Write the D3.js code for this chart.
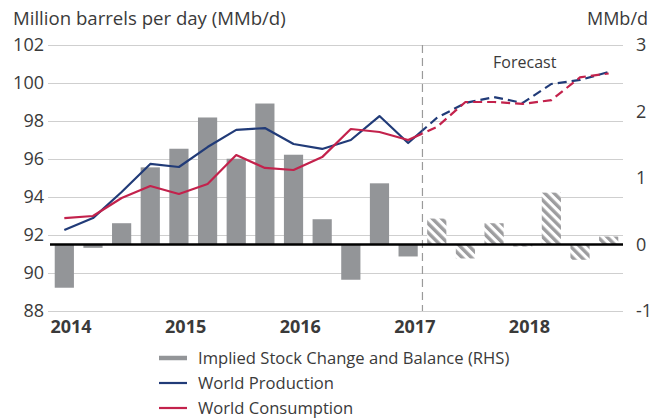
<!DOCTYPE html>
<html>
<head>
<meta charset="utf-8">
<script src="https://cdn.jsdelivr.net/npm/d3@7"></script>
<style>
  html, body { margin: 0; padding: 0; background: #fff; }
  svg { display: block; }
</style>
</head>
<body>
<script>
// Quarterly categories, 2014Q1 .. 2018Q4
const quarters = [
  "2014Q1", "2014Q2", "2014Q3", "2014Q4",
  "2015Q1", "2015Q2", "2015Q3", "2015Q4",
  "2016Q1", "2016Q2", "2016Q3", "2016Q4",
  "2017Q1", "2017Q2", "2017Q3", "2017Q4",
  "2018Q1", "2018Q2", "2018Q3", "2018Q4"
];
const years = ["2014", "2015", "2016", "2017", "2018"];

// Implied stock change and balance (RHS, MMb/d)
const stockChange = [-0.65, -0.05, 0.32, 1.16, 1.44, 1.91, 1.29, 2.12, 1.35, 0.38, -0.53, 0.92, -0.18, 0.39, -0.21, 0.32, -0.03, 0.78, -0.23, 0.12];
// World production / consumption (LHS, MMb/d)
const production = [92.26, 92.89, 94.26, 95.74, 95.58, 96.63, 97.53, 97.63, 96.79, 96.53, 97.0, 98.26, 96.84, 98.16, 98.95, 99.26, 98.95, 99.95, 100.16, 100.58];
const consumption = [92.89, 93.0, 93.95, 94.58, 94.16, 94.68, 96.21, 95.53, 95.42, 96.1, 97.58, 97.42, 97.0, 97.68, 99.0, 99.0, 98.9, 99.1, 100.3, 100.5];

const leftTicks = [88, 90, 92, 94, 96, 98, 100, 102];
const rightTicks = [-1, 0, 1, 2, 3];
const firstForecast = "2017Q2";

const width = 663, height = 419;
const font = "'Open Sans', sans-serif";
const textColor = "#3a3a3a";
const colors = { bar: "#939598", hatch: "#9d9d9f", production: "#213b78", consumption: "#c3224c", grid: "#cfcfcf" };

const margin = { top: 45, right: 40, bottom: 108, left: 50 };
const x0 = margin.left, x1 = width - margin.right;
const y0 = height - margin.bottom, y1 = margin.top;

const x = d3.scaleBand().domain(quarters).range([x0, x1]).paddingInner(0.33).paddingOuter(0.165);
const yL = d3.scaleLinear().domain([88, 102]).range([y0, y1]);
const yR = d3.scaleLinear().domain([-1, 3]).range([y0, y1]);

const boundary = x(firstForecast) - x.step() * x.paddingInner() / 2;
const forecastIdx = quarters.indexOf(firstForecast);

const svg = d3.select("body").append("svg")
  .attr("width", width)
  .attr("height", height)
  .attr("font-family", font);

const defs = svg.append("defs");
const pat = defs.append("pattern")
  .attr("id", "hatch")
  .attr("patternUnits", "userSpaceOnUse")
  .attr("width", 6.5)
  .attr("height", 6.5)
  .attr("patternTransform", "rotate(-45)");
pat.append("rect").attr("width", 6.5).attr("height", 6.5).attr("fill", "#fff");
pat.append("rect").attr("width", 3.4).attr("height", 6.5).attr("fill", colors.hatch);

defs.append("clipPath").attr("id", "clip-actual")
  .append("rect").attr("x", 0).attr("y", 0).attr("width", boundary).attr("height", height);
defs.append("clipPath").attr("id", "clip-forecast")
  .append("rect").attr("x", boundary).attr("y", 0).attr("width", width - boundary).attr("height", height);

// Gridlines (left axis)
svg.append("g")
  .selectAll("line")
  .data(leftTicks)
  .join("line")
  .attr("x1", x0 - 2)
  .attr("x2", x1)
  .attr("y1", d => Math.round(yL(d)) + 0.5)
  .attr("y2", d => Math.round(yL(d)) + 0.5)
  .attr("stroke", colors.grid)
  .attr("stroke-width", 1);

// Left tick labels
svg.append("g")
  .selectAll("text")
  .data(leftTicks)
  .join("text")
  .attr("x", x0 - 6)
  .attr("y", d => yL(d))
  .attr("dy", "0.36em")
  .attr("text-anchor", "end")
  .attr("font-size", 18)
  .attr("fill", textColor)
  .text(d => d);

// Right tick labels
svg.append("g")
  .selectAll("text")
  .data(rightTicks)
  .join("text")
  .attr("x", x1 + 13)
  .attr("y", d => yR(d))
  .attr("dy", "0.36em")
  .attr("text-anchor", "start")
  .attr("font-size", 18)
  .attr("fill", textColor)
  .text(d => d);

// Forecast separator
svg.append("line")
  .attr("x1", boundary)
  .attr("x2", boundary)
  .attr("y1", y1)
  .attr("y2", y0)
  .attr("stroke", "#9a9a9a")
  .attr("stroke-width", 1.2)
  .attr("stroke-dasharray", "8,5");

svg.append("text")
  .attr("x", (boundary + x1) / 2 + 2)
  .attr("y", 68)
  .attr("text-anchor", "middle")
  .attr("font-size", 16)
  .attr("fill", textColor)
  .text("Forecast");

// Bars (RHS)
svg.append("g")
  .selectAll("rect")
  .data(stockChange)
  .join("rect")
  .attr("x", (d, i) => x(quarters[i]))
  .attr("width", x.bandwidth())
  .attr("y", d => yR(Math.max(0, d)))
  .attr("height", d => Math.abs(yR(d) - yR(0)))
  .attr("fill", (d, i) => i >= forecastIdx ? "url(#hatch)" : colors.bar);

// Zero baseline
svg.append("line")
  .attr("x1", x0)
  .attr("x2", x1)
  .attr("y1", yR(0))
  .attr("y2", yR(0))
  .attr("stroke", "#000")
  .attr("stroke-width", 2.6);

// Lines (LHS): solid for actuals, dashed for forecast
const line = d3.line()
  .x((d, i) => x(quarters[i]) + x.bandwidth() / 2)
  .y(d => yL(d));

[[production, colors.production], [consumption, colors.consumption]].forEach(([series, color]) => {
  svg.append("path")
    .attr("d", line(series))
    .attr("fill", "none")
    .attr("stroke", color)
    .attr("stroke-width", 2.2)
    .attr("stroke-linejoin", "round")
    .attr("clip-path", "url(#clip-actual)");
  svg.append("path")
    .attr("d", line(series))
    .attr("fill", "none")
    .attr("stroke", color)
    .attr("stroke-width", 2.2)
    .attr("stroke-dasharray", "9,5")
    .attr("clip-path", "url(#clip-forecast)");
});

// Year labels
svg.append("g")
  .selectAll("text")
  .data(years)
  .join("text")
  .attr("x", d => x(d + "Q1") + x.bandwidth() * 0.85)
  .attr("y", 333)
  .attr("text-anchor", "middle")
  .attr("font-size", 18)
  .attr("font-weight", 700)
  .attr("fill", textColor)
  .text(d => d);

// Axis titles
svg.append("text")
  .attr("x", 13)
  .attr("y", 25)
  .attr("font-size", 18.6)
  .attr("fill", textColor)
  .text("Million barrels per day (MMb/d)");

svg.append("text")
  .attr("x", 648)
  .attr("y", 25)
  .attr("text-anchor", "end")
  .attr("font-size", 18)
  .attr("fill", textColor)
  .text("MMb/d");

// Legend
const legendItems = [
  { label: "Implied Stock Change and Balance (RHS)", color: colors.bar, w: 4.5 },
  { label: "World Production", color: colors.production, w: 2.2 },
  { label: "World Consumption", color: colors.consumption, w: 2.2 }
];
const legend = svg.append("g")
  .selectAll("g")
  .data(legendItems)
  .join("g")
  .attr("transform", (d, i) => `translate(159, ${358 + i * 25})`);

legend.append("line")
  .attr("x1", 0)
  .attr("x2", 28)
  .attr("stroke", d => d.color)
  .attr("stroke-width", d => d.w);

legend.append("text")
  .attr("x", 39)
  .attr("dy", "0.36em")
  .attr("font-size", 16.6)
  .attr("fill", textColor)
  .text(d => d.label);
</script>
</body>
</html>
